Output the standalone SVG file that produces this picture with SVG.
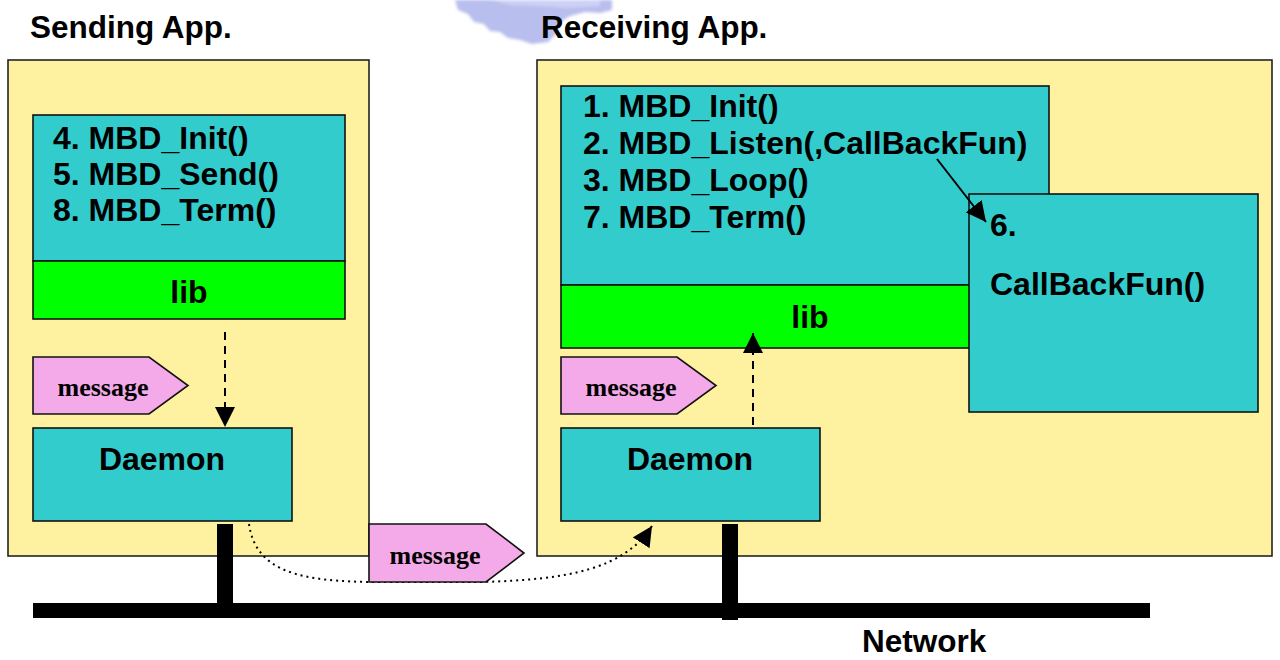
<svg xmlns="http://www.w3.org/2000/svg" width="1280" height="660" viewBox="0 0 1280 660">
  <defs>
    <style>
      .app { fill: #fef2a1; stroke: #222; stroke-width: 1.6; }
      .proc { fill: #33cccc; stroke: #111; stroke-width: 1.6; }
      .lib { fill: #00ff00; stroke: #111; stroke-width: 1.6; }
      .msg { fill: #f4aae8; stroke: #111; stroke-width: 1.6; }
      .t { font-family: "Liberation Sans", Arial, sans-serif; font-weight: bold; fill: #000; }
      .code { font-size: 32px; }
      .title { font-size: 31.5px; }
      .mtxt { font-family: "Liberation Serif", "Times New Roman", serif; font-weight: bold; font-size: 26px; text-anchor: middle; fill: #000; }
      .mid { text-anchor: middle; }
      .dash { fill: none; stroke: #000; stroke-width: 2; stroke-dasharray: 8 6; }
      .dot { fill: none; stroke: #000; stroke-width: 2; stroke-dasharray: 2 4; }
      .solid { fill: none; stroke: #000; stroke-width: 2; }
      .wire { fill: #000; }
    </style>
    <marker id="headBig" viewBox="0 0 10 10" refX="10" refY="5" markerWidth="20" markerHeight="20" markerUnits="userSpaceOnUse" orient="auto">
      <path d="M0,0 L10,5 L0,10 Z" fill="#000"/>
    </marker>
    <filter id="soft" x="-20%" y="-50%" width="140%" height="200%">
      <feGaussianBlur stdDeviation="1.6"/>
    </filter>
  </defs>

  <!-- faint logo at the top, cut off by the page edge -->
  <g id="logo" filter="url(#soft)">
    <path d="M455,0 H612 V10 L600,13 L585,12 L570,16 L560,22 L556,34 L548,42 L532,44 L520,40 L508,38 L500,32 L490,31 L484,24 L474,22 L468,14 L458,10 Z" fill="#a6aee9" opacity="0.8"/>
    <path d="M492,0 H600 V6 L570,8 L540,6 L510,5 Z" fill="#cfd3f6" opacity="0.9"/>
  </g>

  <!-- titles -->
  <text class="t title" x="30" y="38">Sending App.</text>
  <text class="t title" x="541" y="38">Receiving App.</text>

  <!-- sending application -->
  <g id="sending-app">
    <rect class="app" x="8" y="60" width="361" height="496"/>
  </g>
  <g id="sending-calls">
    <rect class="proc" x="33" y="115" width="312" height="146"/>
    <text class="t code" x="53" y="149">4. MBD_Init()</text>
    <text class="t code" x="53" y="185">5. MBD_Send()</text>
    <text class="t code" x="53" y="221">8. MBD_Term()</text>
  </g>
  <g id="sending-lib">
    <rect class="lib" x="33" y="261" width="312" height="58"/>
    <text class="t code mid" x="189" y="303">lib</text>
  </g>
  <g id="sending-message">
    <path class="msg" d="M33,357 H149 L188,385.5 L149,414 H33 Z"/>
    <text class="mtxt" x="103" y="396">message</text>
  </g>
  <g id="sending-daemon">
    <rect class="proc" x="33" y="428" width="259" height="93"/>
    <text class="t code mid" x="162" y="470">Daemon</text>
  </g>

  <!-- receiving application -->
  <g id="receiving-app">
    <rect class="app" x="537" y="60" width="735" height="496"/>
  </g>
  <g id="receiving-calls">
    <rect class="proc" x="561" y="86" width="488" height="199"/>
    <text class="t code" x="583" y="117">1. MBD_Init()</text>
    <text class="t code" x="583" y="154">2. MBD_Listen(,CallBackFun)</text>
    <text class="t code" x="583" y="191">3. MBD_Loop()</text>
    <text class="t code" x="583" y="228">7. MBD_Term()</text>
  </g>
  <g id="receiving-lib">
    <rect class="lib" x="561" y="285" width="488" height="63"/>
    <text class="t code mid" x="810" y="328">lib</text>
  </g>
  <g id="callback">
    <rect class="proc" x="969" y="194" width="289" height="218"/>
    <text class="t code" x="990" y="236">6.</text>
    <text class="t code" x="990" y="295">CallBackFun()</text>
  </g>
  <g id="receiving-message">
    <path class="msg" d="M561,357 H677 L716,385.5 L677,414 H561 Z"/>
    <text class="mtxt" x="631" y="396">message</text>
  </g>
  <g id="receiving-daemon">
    <rect class="proc" x="561" y="428" width="259" height="93"/>
    <text class="t code mid" x="690" y="470">Daemon</text>
  </g>

  <!-- network -->
  <g id="network">
    <rect class="wire" x="33" y="603" width="1117" height="15"/>
    <rect class="wire" x="217" y="524" width="16" height="82"/>
    <rect class="wire" x="722" y="524" width="16" height="96"/>
    <text class="t title" x="862" y="652">Network</text>
  </g>

  <!-- connectors -->
  <g id="connectors">
    <path class="dash" d="M225,332 V427" marker-end="url(#headBig)"/>
    <path class="dash" d="M753,425 V333" marker-end="url(#headBig)"/>
    <path class="solid" d="M937,159 L986,222" marker-end="url(#headBig)"/>
    <path class="dot" d="M249,524 C256,572 300,582 380,582 L480,582 C570,580 625,568 652,526" marker-end="url(#headBig)"/>
  </g>

  <!-- message in transit, drawn over the dotted path -->
  <g id="network-message">
    <path class="msg" d="M369,524 H486 L524,553 L486,582 H369 Z"/>
    <text class="mtxt" x="435" y="564">message</text>
  </g>
</svg>
